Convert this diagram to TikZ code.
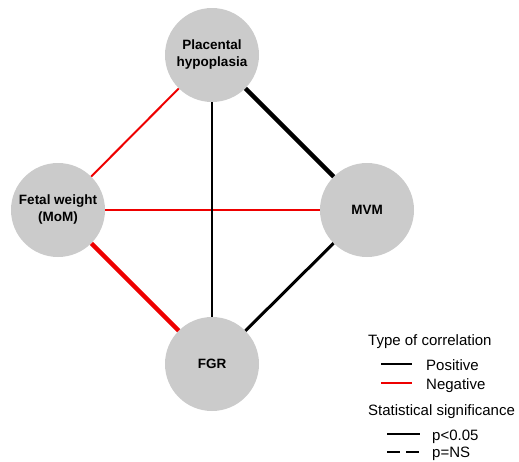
\documentclass[tikz,border=0pt]{standalone}
\usepackage{fontspec}
\setmainfont{Liberation Sans}
\definecolor{circgray}{HTML}{CBCBCB}
\definecolor{negred}{HTML}{EE0000}
\begin{document}
\begin{tikzpicture}[x=1pt, y=-1pt,
    var/.style={circle, fill=circgray, minimum size=94pt, inner sep=0pt,
      align=center, font=\fontsize{13.5}{17}\selectfont\bfseries},
    leg/.style={anchor=base west, inner sep=0pt, font=\fontsize{15}{18}\selectfont},
    weak/.style={line width=2pt},
    medium/.style={line width=3pt},
    strong/.style={line width=4.5pt}]
  \useasboundingbox (0,0) rectangle (519,461);

  \node[var] (PH)  at (212, 55)  {Placental\\hypoplasia};
  \node[var] (FW)  at (58, 210)  {Fetal weight\\(MoM)};
  \node[var] (MVM) at (367, 210) {MVM};
  \node[var] (FGR) at (212, 364) {FGR};

  \draw[weak, negred] (PH) edge (FW) (FW) edge (MVM);
  \draw[strong, negred] (FW) edge (FGR);
  \draw[strong] (PH) edge (MVM);
  \draw[weak] (PH) edge (FGR);
  \draw[medium] (MVM) edge (FGR);

  % legend
  \node[leg] (typ) at (368, 345) {Type of correlation};
  \node[leg] (pos) at (426, 370) {Positive};
  \node[leg] (neg) at (426, 389) {Negative};
  \node[leg] (sig) at (368, 415) {Statistical significance};
  \node[leg] (sgn) at (432, 440) {p<0.05};
  \node[leg] (ns)  at (432, 457.5) {p=NS};

  \draw[line width=2.5pt] (381, 364) -- (412, 364);
  \draw[line width=2.5pt, negred] (381, 383) -- (412, 383);
  \draw[line width=2.5pt] (387, 434) -- (420, 434);
  \draw[line width=2.5pt, dash pattern=on 13pt off 6pt] (387, 452) -- (419, 452);
\end{tikzpicture}
\end{document}
